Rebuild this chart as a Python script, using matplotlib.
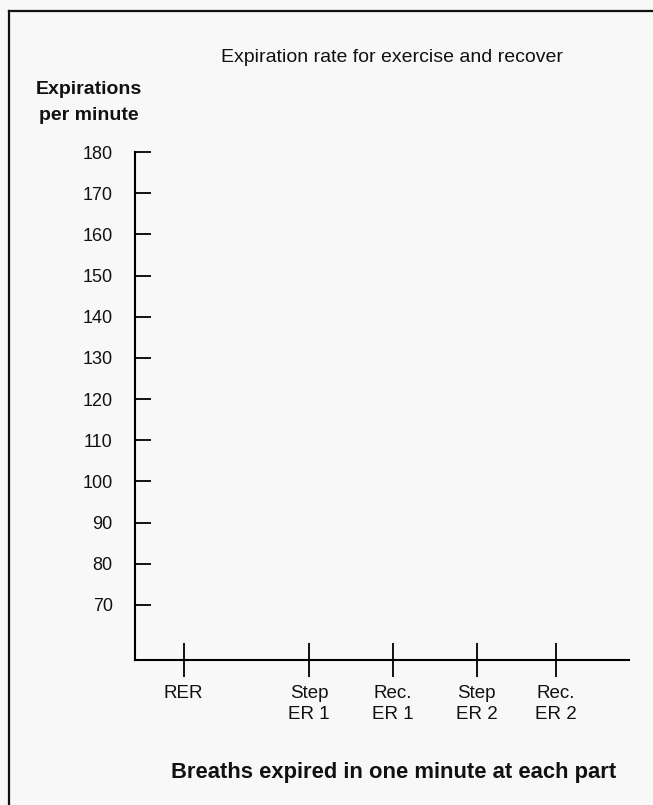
import matplotlib
matplotlib.use("Agg")
import matplotlib.pyplot as plt
from matplotlib.lines import Line2D

# ---- data ----
categories = ["RER", "Step\nER 1", "Rec.\nER 1", "Step\nER 2", "Rec.\nER 2"]
cat_positions = [0, 1.5, 2.5, 3.5, 4.45]
y_ticks = [70, 80, 90, 100, 110, 120, 130, 140, 150, 160, 170, 180]
title = "Expiration rate for exercise and recover"
y_title = "Expirations\nper minute"
x_title = "Breaths expired in one minute at each part"

W, H = 653, 805
fig = plt.figure(figsize=(W / 100, H / 100), dpi=100)
bg = "#f8f8f8"
fig.patch.set_facecolor(bg)

sans = ["Liberation Sans", "DejaVu Sans"]
narrow = ["Liberation Sans Narrow", "Liberation Sans", "DejaVu Sans"]

left_px, right_px, bottom_px, top_px = 135, 629, 660, 152
ax = fig.add_axes([left_px / W, (H - bottom_px) / H,
                   (right_px - left_px) / W, (bottom_px - top_px) / H])
ax.set_facecolor("none")

ax.set_ylim(56.6, 180)
ax.set_xlim(-0.58, 5.32)

for s in ["top", "right"]:
    ax.spines[s].set_visible(False)
ax.spines["left"].set_linewidth(1.5)
ax.spines["bottom"].set_linewidth(1.5)

ax.set_yticks(y_ticks)
ax.set_yticklabels([str(v) for v in y_ticks], fontsize=13, family=sans)
ax.tick_params(axis="y", direction="in", length=11.5, width=1.4, pad=16, colors="#111111")

ax.set_xticks(cat_positions)
ax.set_xticklabels(categories, fontsize=13.5, family=sans, linespacing=1.3)
ax.tick_params(axis="x", direction="inout", length=24, width=1.4, pad=6, colors="#111111")

fig.text(392 / W, 1 - 57 / H, title, ha="center", va="center",
         fontsize=14, family=narrow, color="#111111")
fig.text(89 / W, 1 - 81 / H, y_title, ha="center", va="top",
         fontsize=14, fontweight="bold", family=sans, linespacing=1.7, color="#111111")
fig.text(394 / W, 1 - 772 / H, x_title, ha="center", va="center",
         fontsize=15.8, fontweight="bold", family=sans, color="#111111")

# frame border (top and left edges visible in scan)
fig.add_artist(Line2D([9 / W, 1.0], [1 - 11 / H, 1 - 11 / H], transform=fig.transFigure,
                      color="#111111", lw=1.6))
fig.add_artist(Line2D([9 / W, 9 / W], [1 - 11 / H, 0.0], transform=fig.transFigure,
                      color="#111111", lw=1.6))

fig.savefig("out.png", dpi=100, facecolor=bg)
